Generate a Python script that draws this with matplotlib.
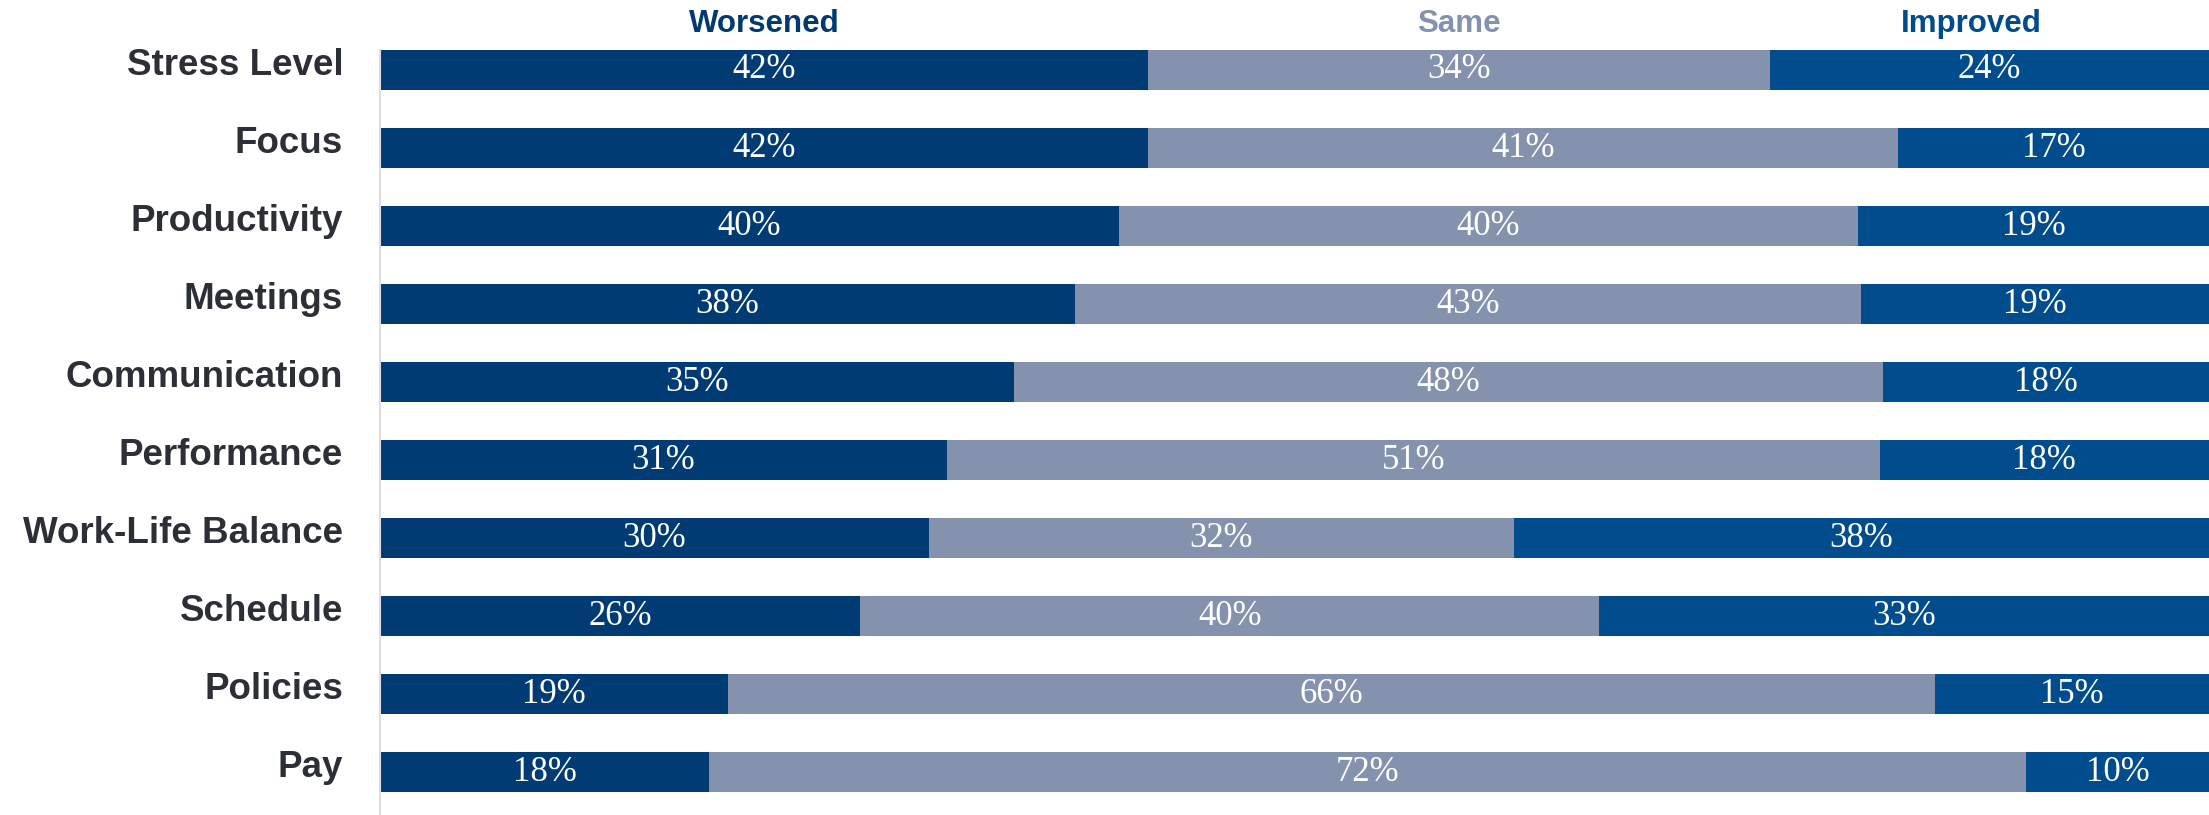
import matplotlib
matplotlib.use("Agg")
import matplotlib.pyplot as plt
import matplotlib.transforms as mtransforms
import numpy as np

# データ
categories = ["Stress Level", "Focus", "Productivity", "Meetings", "Communication",
              "Performance", "Work-Life Balance", "Schedule", "Policies", "Pay"]
worsened = [42, 42, 40, 38, 35, 31, 30, 26, 19, 18]
same = [34, 41, 40, 43, 48, 51, 32, 40, 66, 72]
improved = [24, 17, 19, 19, 18, 18, 38, 33, 15, 10]
series_names = ["Worsened", "Same", "Improved"]

colors = ["#003b73", "#8592ae", "#004c8c"]
header_colors = ["#003a70", "#8592ae", "#004b8c"]

vals = np.array([worsened, same, improved], dtype=float)
# 100%積み上げ（丸めの誤差を吸収）
shares = vals / vals.sum(axis=0) * 100

fig = plt.figure(figsize=(22.09, 8.15), dpi=100)
ax = fig.add_axes([380 / 2209, 0, 1 - 380 / 2209, 1 - 50 / 815])

y = np.arange(len(categories))
left = np.zeros(len(categories))
for k in range(3):
    ax.barh(y, shares[k], left=left, height=0.513, color=colors[k], linewidth=0)
    for i in range(len(categories)):
        ax.text(left[i] + shares[k][i] / 2, y[i], f"{int(vals[k][i])}%",
                ha="center", va="center", color="white",
                fontsize=25, family="Liberation Serif")
    left += shares[k]

ax.set_xlim(0, 100)
ax.set_ylim(9.551, -0.2564)

ax.set_yticks(y)
ax.set_yticklabels(categories, fontsize=26.5, fontweight="bold",
                   family="Liberation Sans", color="#2d2f36")
ax.tick_params(axis="y", length=0, pad=26.5)
ax.set_xticks([])

# ラベルを少し上に
shift = mtransforms.ScaledTranslation(0, 6 / 72, fig.dpi_scale_trans)
for lab in ax.get_yticklabels():
    lab.set_transform(lab.get_transform() + shift)

for s in ["top", "right", "bottom"]:
    ax.spines[s].set_visible(False)
ax.spines["left"].set_color("#dcdce2")
ax.spines["left"].set_linewidth(1.5)

# 上部の系列名（x: データ座標, y: 図全体の座標）
trans = mtransforms.blended_transform_factory(ax.transData, fig.transFigure)
header_x = [21, 59, 87]
for name, hx, hc in zip(series_names, header_x, header_colors):
    ax.text(hx, 1 - 24 / 815, name, transform=trans,
            ha="center", va="center", fontsize=22.5, fontweight="bold",
            family="Liberation Sans", color=hc, clip_on=False)

plt.savefig("out.png", dpi=100)
